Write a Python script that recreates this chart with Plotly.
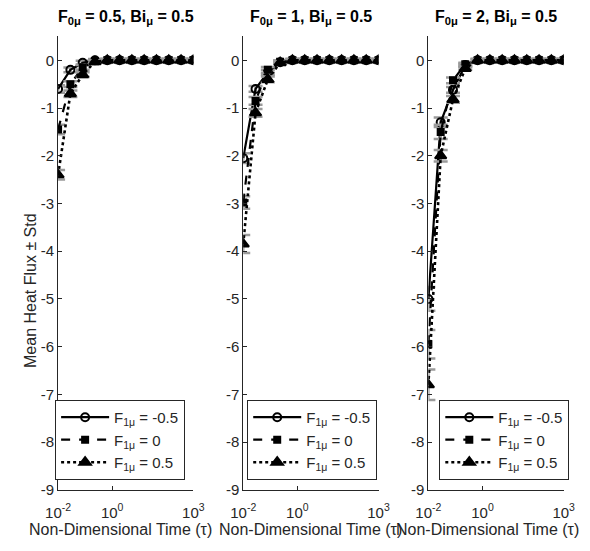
import plotly.graph_objects as go

# Sampling times (non-dimensional)
tau = [0.01, 0.0285, 0.0811, 0.231, 0.658, 1.874, 5.34, 15.2, 43.3, 123.3, 351.1, 1000.0]

# Panel titles (F0 values, Bi = 0.5)
f0_values = ["0.5", "1", "2"]
f1_labels = ["-0.5", "0", "0.5"]

# Mean heat flux, F0 = 0.5
p1_f1_m05 = [-0.60, -0.20, -0.05, 0.00, 0, 0, 0, 0, 0, 0, 0, 0]
p1_f1_0 = [-1.45, -0.50, -0.15, -0.02, 0, 0, 0, 0, 0, 0, 0, 0]
p1_f1_p05 = [-2.40, -0.70, -0.30, -0.03, 0, 0, 0, 0, 0, 0, 0, 0]
p1_std_m05 = [0.08, 0.05, 0.04, 0.03, 0.03, 0.03, 0.03, 0.03, 0.03, 0.03, 0.03, 0.03]
p1_std_0 = [0.10, 0.06, 0.05, 0.03, 0.03, 0.03, 0.03, 0.03, 0.03, 0.03, 0.03, 0.03]
p1_std_p05 = [0.10, 0.07, 0.05, 0.03, 0.03, 0.03, 0.03, 0.03, 0.03, 0.03, 0.03, 0.03]

# Mean heat flux, F0 = 1
p2_f1_m05 = [-2.05, -0.60, -0.25, -0.04, 0, 0, 0, 0, 0, 0, 0, 0]
p2_f1_0 = [-2.98, -0.85, -0.20, -0.03, 0, 0, 0, 0, 0, 0, 0, 0]
p2_f1_p05 = [-3.85, -1.10, -0.40, -0.05, 0, 0, 0, 0, 0, 0, 0, 0]
p2_std_m05 = [0.10, 0.06, 0.05, 0.03, 0.03, 0.03, 0.03, 0.03, 0.03, 0.03, 0.03, 0.03]
p2_std_0 = [0.13, 0.08, 0.06, 0.03, 0.03, 0.03, 0.03, 0.03, 0.03, 0.03, 0.03, 0.03]
p2_std_p05 = [0.19, 0.08, 0.06, 0.03, 0.03, 0.03, 0.03, 0.03, 0.03, 0.03, 0.03, 0.03]

# Mean heat flux, F0 = 2
p3_f1_m05 = [-5.00, -1.30, -0.62, -0.10, 0, 0, 0, 0, 0, 0, 0, 0]
p3_f1_0 = [-5.95, -1.50, -0.42, -0.08, 0, 0, 0, 0, 0, 0, 0, 0]
p3_f1_p05 = [-6.80, -2.00, -0.82, -0.17, 0, 0, 0, 0, 0, 0, 0, 0]
p3_std_m05 = [0.25, 0.10, 0.06, 0.03, 0.03, 0.03, 0.03, 0.03, 0.03, 0.03, 0.03, 0.03]
p3_std_0 = [0.30, 0.15, 0.06, 0.03, 0.03, 0.03, 0.03, 0.03, 0.03, 0.03, 0.03, 0.03]
p3_std_p05 = [0.32, 0.12, 0.07, 0.03, 0.03, 0.03, 0.03, 0.03, 0.03, 0.03, 0.03, 0.03]

y_ticks = [-9, -8, -7, -6, -5, -4, -3, -2, -1, 0]
y_ticktext = ["-9", "-8", "-7", "-6", "-5", "-4", "-3", "-2", "-1", "0"]
x_tickvals = [0.01, 1, 1000]
x_ticktext = ["10<sup>-2</sup>", "10<sup>0</sup>", "10<sup>3</sup>"]

panels = [
    ([p1_f1_m05, p1_f1_0, p1_f1_p05], [p1_std_m05, p1_std_0, p1_std_p05]),
    ([p2_f1_m05, p2_f1_0, p2_f1_p05], [p2_std_m05, p2_std_0, p2_std_p05]),
    ([p3_f1_m05, p3_f1_0, p3_f1_p05], [p3_std_m05, p3_std_0, p3_std_p05]),
]

W, H = 590, 551
FONT = "Liberation Sans, Arial, sans-serif"
INK = "#262626"
ERR = "#9a9a9a"

# pixel layout of each axes box
x_left = [47, 240, 433]
x_width = 141
y_top, y_bottom = 37, 497
legend_x = [0.0744, 0.4138, 0.7532]
xlabel_center = [112, 310, 495]

styles = [
    dict(dash="solid", symbol="circle-open", size=8, width=2.2),
    dict(dash="dash", symbol="square", size=6, width=2.2),
    dict(dash="dot", symbol="triangle-up", size=10, width=2.6),
]

fig = go.Figure()
layout = {}
annotations = []

for i, (means, stds) in enumerate(panels):
    n = i + 1
    xa = "x" if n == 1 else f"x{n}"
    ya = "y" if n == 1 else f"y{n}"
    leg = "legend" if n == 1 else f"legend{n}"
    for k in range(3):
        st = styles[k]
        fig.add_trace(go.Scatter(
            x=tau, y=means[k], xaxis=xa, yaxis=ya, legend=leg,
            mode="lines+markers",
            name=f"F<sub>1μ</sub> = {f1_labels[k]}",
            line=dict(color="black", dash=st["dash"], width=st["width"]),
            marker=dict(symbol=st["symbol"], size=st["size"], color="black",
                        line=dict(color="black", width=2)),
            error_y=dict(type="data", array=stds[k], color=ERR,
                         thickness=2.5, width=7),
        ))

    x0 = x_left[i] / W
    x1 = (x_left[i] + x_width) / W
    key = "" if n == 1 else str(n)
    layout[f"xaxis{key}"] = dict(
        type="log", range=[-2, 3], domain=[x0, x1], anchor=ya,
        tickvals=x_tickvals, ticktext=x_ticktext, ticks="inside", ticklen=4,
        tickcolor=INK, showline=True, linecolor=INK, linewidth=1,
        showgrid=False, zeroline=False, ticklabelstandoff=9,
        tickfont=dict(family=FONT, size=15, color=INK),
    )
    layout[f"yaxis{key}"] = dict(
        range=[-9, 0.5], domain=[1 - y_bottom / H, 1 - y_top / H], anchor=xa,
        tickvals=y_ticks, ticktext=y_ticktext, ticks="inside", ticklen=4,
        tickcolor=INK, showline=True, linecolor=INK, linewidth=1,
        showgrid=False, zeroline=False,
        tickfont=dict(family=FONT, size=15, color=INK),
    )
    layout[leg] = dict(
        x=legend_x[i], xanchor="left",
        y=1 - 487 / H, yanchor="bottom",
        bgcolor="white", bordercolor=INK, borderwidth=1,
        font=dict(family=FONT, size=15, color=INK),
        itemwidth=48, tracegroupgap=0,
    )
    annotations.append(dict(
        x=(x_left[i] + x_width / 2) / W, y=1 - 18 / H, xref="paper", yref="paper",
        text=f"<b>F<sub>0μ</sub> = {f0_values[i]}, Bi<sub>μ</sub> = 0.5</b>",
        showarrow=False, xanchor="center", yanchor="middle",
        font=dict(family=FONT, size=16, color="black"),
    ))
    annotations.append(dict(
        x=xlabel_center[i] / W, y=1 - 537 / H, xref="paper", yref="paper",
        text="Non-Dimensional Time (τ)", showarrow=False,
        xanchor="center", yanchor="middle",
        font=dict(family=FONT, size=16, color=INK),
    ))

annotations.append(dict(
    x=18 / W, y=1 - 295 / H, xref="paper", yref="paper",
    text="Mean Heat Flux ± Std", textangle=-90, showarrow=False,
    xanchor="center", yanchor="middle",
    font=dict(family=FONT, size=16, color=INK),
))

fig.update_layout(
    width=W, height=H, margin=dict(l=0, r=0, t=0, b=0),
    paper_bgcolor="white", plot_bgcolor="white",
    showlegend=True, annotations=annotations, **layout,
)

fig.write_html("out.html")
